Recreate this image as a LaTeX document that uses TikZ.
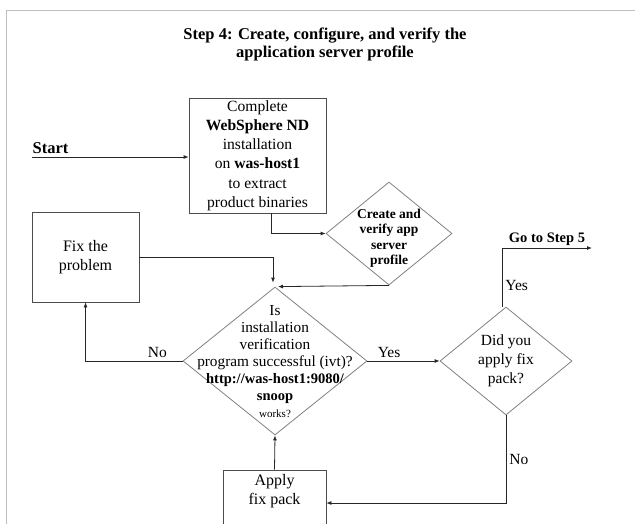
\documentclass[tikz,border=0pt]{standalone}
\usepackage{fontspec}
\setmainfont{Liberation Serif}
\usetikzlibrary{arrows.meta,shapes.geometric,positioning}

\begin{document}
\begin{tikzpicture}[x=1pt, y=-1pt, >={Latex[length=5pt,width=4pt]},
	box/.style={rectangle, draw=black!70, line width=0.8pt, inner sep=0pt, align=center},
	decision/.style={diamond, draw=black!50, line width=0.8pt, inner sep=0pt},
	link/.style={->, draw=black!85, line width=0.8pt},
	lbl/.style={font=\fontsize{15.5}{18}\selectfont, inner sep=3pt}]
	\useasboundingbox (0,0) rectangle (635,524);
	\draw [black!25, line width=1.5pt] (6.5,524) -- (6.5,10.5) -- (635,10.5);

	\node (title) [align=center, font=\fontsize{16.5}{17.5}\selectfont\bfseries] at (325,44.5)
		{Step 4: Create, configure, and verify the\\application server profile};

	\node (start) [font=\fontsize{16.5}{18}\selectfont\bfseries] at (50.5,148) {Start};
	\coordinate (s0) at (32,157);

	\node (inst) [box, minimum width=137pt, minimum height=115pt, font=\fontsize{15.6}{19.3}\selectfont] at (257.5,155.5)
		{Complete\\\textbf{WebSphere ND}\\installation\\on \textbf{was-host1}\\to extract\\product binaries};

	\node (create) [decision, minimum width=126pt, minimum height=103pt] at (389,233.5) {};
	\node [align=center, font=\fontsize{13.5}{15.5}\selectfont\bfseries] at ([yshift=-5pt]create.center)
		{Create and\\verify app\\server\\profile};

	\node (fix) [box, minimum width=107pt, minimum height=90pt, font=\fontsize{16}{19}\selectfont] at (85.5,257)
		{Fix the\\problem};

	\node (ivt) [decision, minimum width=184pt, minimum height=148pt] at (275,361) {};
	\node [align=center, font=\fontsize{15.3}{17}\selectfont] at ([yshift=-1pt]ivt.center)
		{Is\\installation\\verification\\program successful (ivt)?\\
		{\fontsize{14.5}{17}\selectfont\bfseries http://was-host1:9080/}\\
		{\fontsize{14.5}{17}\selectfont\bfseries snoop}\\
		{\fontsize{11}{17}\selectfont works?}};

	\node (fixq) [decision, minimum width=132pt, minimum height=108pt] at (506,361) {};
	\node [align=center, font=\fontsize{15.5}{19}\selectfont] at (fixq.center)
		{Did you\\apply fix\\pack?};

	% box runs on past the lower edge of the page
	\node (apply) [box, minimum width=103pt, minimum height=62pt, font=\fontsize{16}{19}\selectfont] at (274.5,501)
		{Apply\\fix pack\\[5pt]};
	\coordinate (goto) at (592,248);

	\draw [link] (s0) -- (s0 -| inst.west);
	\draw [link] ([xshift=14pt]inst.south) |- (create.west);
	\draw [link] (create.south) -- ([xshift=3pt]ivt.north);
	\draw [link] (fix.east) -| ([xshift=-2pt,yshift=4pt]ivt.north);
	\draw [link] (ivt.west) -| node[lbl, pos=0.13, above] {No} (fix.south);
	\draw [link] (ivt.east) -- node[lbl, pos=0.3, above] {Yes} (fixq.west);
	\draw [link] ([xshift=-4pt]fixq.north) |- node[lbl, pos=0.18, right] {Yes}
		node[pos=0.75, above, inner sep=2pt, font=\fontsize{14.5}{17}\selectfont\bfseries] {Go to Step 5} (goto);
	\draw [link] (fixq.south) |- node[lbl, pos=0.25, right] {No} ([yshift=-2pt]apply.east);
	\draw [link] (apply.north) -- (ivt.south);
\end{tikzpicture}
\end{document}
